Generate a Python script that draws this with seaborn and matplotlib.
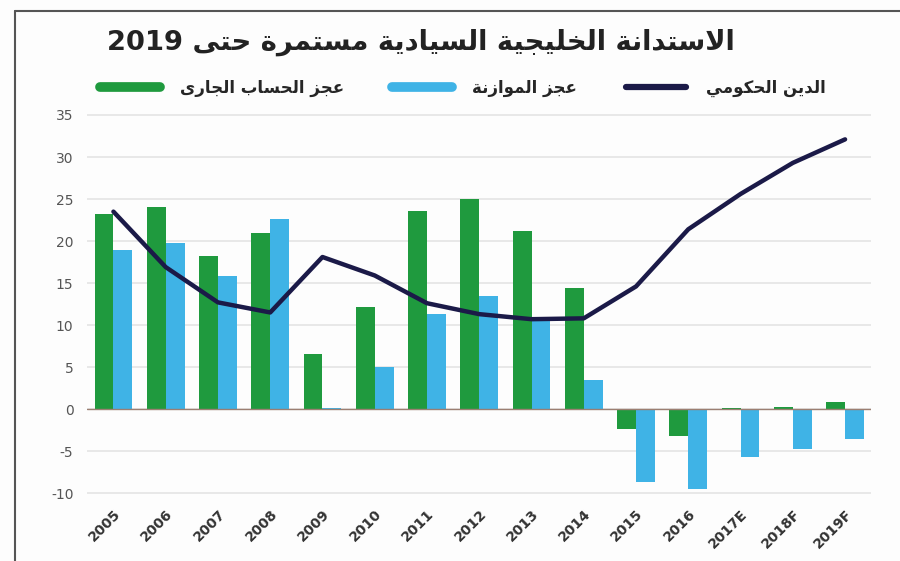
import numpy as np
import pandas as pd
import matplotlib
matplotlib.use('Agg')
import matplotlib.pyplot as plt
from matplotlib.lines import Line2D
import seaborn as sns

# Chart data
years = ['2005', '2006', '2007', '2008', '2009', '2010', '2011', '2012', '2013',
         '2014', '2015', '2016', '2017E', '2018F', '2019F']
current_account = [23.2, 24.0, 18.2, 20.9, 6.5, 12.2, 23.6, 25.0, 21.2,
                   14.4, -2.4, -3.2, 0.1, 0.3, 0.8]
budget = [18.9, 19.8, 15.8, 22.6, 0.1, 5.0, 11.3, 13.4, 10.6,
          3.5, -8.7, -9.5, -5.7, -4.8, -3.5]
gov_debt = [23.5, 16.9, 12.7, 11.5, 18.1, 15.9, 12.6, 11.3, 10.7,
            10.8, 14.6, 21.4, 25.6, 29.3, 32.1]
y_ticks = [-10, -5, 0, 5, 10, 15, 20, 25, 30, 35]

title = 'الاستدانة الخليجية السيادية مستمرة حتى 2019'
label_current = 'عجز الحساب الجارى'
label_budget = 'عجز الموازنة'
label_debt = 'الدين الحكومي'

GREEN = '#1f9a3e'
BLUE = '#3fb3e6'
NAVY = '#1b1a48'

# matplotlib has no Arabic shaping, so pick presentation forms by hand
FORMS = {
    'ا': ('\uFE8D', '\uFE8E'), 'ب': ('\uFE8F', '\uFE90', '\uFE91', '\uFE92'),
    'ة': ('\uFE93', '\uFE94'), 'ت': ('\uFE95', '\uFE96', '\uFE97', '\uFE98'),
    'ج': ('\uFE9D', '\uFE9E', '\uFE9F', '\uFEA0'), 'ح': ('\uFEA1', '\uFEA2', '\uFEA3', '\uFEA4'),
    'خ': ('\uFEA5', '\uFEA6', '\uFEA7', '\uFEA8'), 'د': ('\uFEA9', '\uFEAA'),
    'ر': ('\uFEAD', '\uFEAE'), 'ز': ('\uFEAF', '\uFEB0'),
    'س': ('\uFEB1', '\uFEB2', '\uFEB3', '\uFEB4'), 'ع': ('\uFEC9', '\uFECA', '\uFECB', '\uFECC'),
    'ك': ('\uFED9', '\uFEDA', '\uFEDB', '\uFEDC'), 'ل': ('\uFEDD', '\uFEDE', '\uFEDF', '\uFEE0'),
    'م': ('\uFEE1', '\uFEE2', '\uFEE3', '\uFEE4'), 'ن': ('\uFEE5', '\uFEE6', '\uFEE7', '\uFEE8'),
    'و': ('\uFEED', '\uFEEE'), 'ى': ('\uFEEF', '\uFEF0'),
    'ي': ('\uFEF1', '\uFEF2', '\uFEF3', '\uFEF4'), 'لا': ('\uFEFB', '\uFEFC'),
}


def shape(text):
    out = []
    for word in text.split(' '):
        if not any(c in FORMS for c in word):
            out.append(word)
            continue
        letters = []
        i = 0
        while i < len(word):
            if word[i:i + 2] == 'لا':
                letters.append('لا')
                i += 2
            else:
                letters.append(word[i])
                i += 1
        glyphs = []
        for k, c in enumerate(letters):
            f = FORMS[c]
            prev = k > 0 and len(FORMS[letters[k - 1]]) == 4
            nxt = k < len(letters) - 1 and len(f) == 4
            if prev and nxt:
                glyphs.append(f[3])
            elif prev:
                glyphs.append(f[1])
            elif nxt:
                glyphs.append(f[2])
            else:
                glyphs.append(f[0])
        out.append(''.join(reversed(glyphs)))
    return ' '.join(reversed(out))


df = pd.DataFrame({
    'year': years * 2,
    'value': current_account + budget,
    'series': ['current'] * len(years) + ['budget'] * len(years),
})

sns.set_style('white')
plt.rcParams['font.family'] = ['DejaVu Sans']
plt.rcParams['axes.unicode_minus'] = False

fig = plt.figure(figsize=(9, 5.61), dpi=100)
fig.patch.set_facecolor('#fdfdfd')
ax = fig.add_axes([0.097, 0.106, 0.871, 0.704])
ax.set_facecolor('#fdfdfd')

for t in y_ticks:
    ax.axhline(t, color='#e4e4e4', lw=1.2, zorder=0)

sns.barplot(data=df, x='year', y='value', hue='series', hue_order=['current', 'budget'],
            palette=[GREEN, BLUE], width=0.72, gap=0, saturation=1, legend=False,
            linewidth=0, ax=ax, zorder=2)
ax.axhline(0, color='#9c7f72', lw=1.0, zorder=2.5)
sns.lineplot(x=np.arange(len(years)), y=gov_debt, color=NAVY, lw=3.2, ax=ax,
             zorder=3, solid_capstyle='round', solid_joinstyle='round')

ax.set_xlim(-0.5, len(years) - 0.5)
ax.set_ylim(-11, 36)
ax.set_yticks(y_ticks)
ax.set_xlabel('')
ax.set_ylabel('')
ax.tick_params(axis='y', length=0, labelsize=10, labelcolor='#555555', pad=10)
ax.tick_params(axis='x', length=0, labelsize=10, labelcolor='#333333', pad=4)
plt.setp(ax.get_xticklabels(), rotation=45, ha='right', rotation_mode='anchor',
         fontweight='bold')
sns.despine(ax=ax, left=True, bottom=True)

# Legend row
handles = [Line2D([], [], color=GREEN, lw=7),
           Line2D([], [], color=BLUE, lw=7),
           Line2D([], [], color=NAVY, lw=4.5)]
labels = [shape(label_current), shape(label_budget), shape(label_debt)]
fig.legend(handles, labels, loc='center', bbox_to_anchor=(0.514, 0.843), ncol=3,
           frameon=False, handlelength=3.6, columnspacing=2.9, handletextpad=1.2,
           prop={'size': 12, 'weight': 'bold'})

fig.text(0.468, 0.925, shape(title), ha='center', va='center', fontsize=19.7,
         fontweight='bold', color='#222222')

# Frame of the page
fig.add_artist(Line2D([0.017, 1.0], [0.980, 0.980], color='#555555', lw=1.5))
fig.add_artist(Line2D([0.017, 0.017], [0.0, 0.980], color='#555555', lw=1.5))

fig.savefig('out.png', dpi=100, facecolor=fig.get_facecolor())
